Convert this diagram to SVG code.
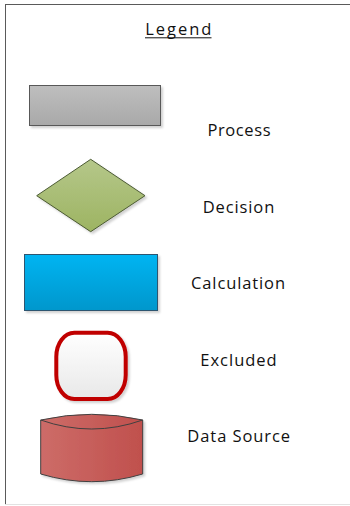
<svg xmlns="http://www.w3.org/2000/svg" width="350" height="506" viewBox="0 0 350 506">
<style>
.lbl{font-family:"Open Sans","Liberation Sans",Arial,sans-serif;font-size:16.5px;fill:#111;text-anchor:middle}
.sh{filter:url(#ds)}
</style>
<defs>
<filter id="ds" x="-10%" y="-10%" width="130%" height="130%">
<feDropShadow dx="2" dy="2" stdDeviation="1.2" flood-color="#000" flood-opacity="0.18"/>
</filter>
<linearGradient id="gGray" x1="0" y1="0" x2="0" y2="1"><stop offset="0" stop-color="#bebebe"/><stop offset="1" stop-color="#a9a9a9"/></linearGradient>
<linearGradient id="gGreen" x1="0" y1="0" x2="0" y2="1"><stop offset="0" stop-color="#b5c78a"/><stop offset="1" stop-color="#9db462"/></linearGradient>
<linearGradient id="gBlue" x1="0" y1="0" x2="0" y2="1"><stop offset="0" stop-color="#00b4f2"/><stop offset="1" stop-color="#0097cc"/></linearGradient>
<linearGradient id="gWhite" x1="0" y1="0" x2="0" y2="1"><stop offset="0" stop-color="#ffffff"/><stop offset="1" stop-color="#e8e8e8"/></linearGradient>
<linearGradient id="gRed" x1="0" y1="0" x2="1" y2="0"><stop offset="0" stop-color="#cd6c68"/><stop offset="1" stop-color="#c0504d"/></linearGradient>
</defs>
<g id="frame">
<line x1="5.5" y1="4" x2="5.5" y2="504" stroke="#5a5a5a" stroke-width="1"/>
<line x1="5" y1="4.5" x2="350" y2="4.5" stroke="#5a5a5a" stroke-width="1"/>
<line x1="5" y1="504.5" x2="350" y2="504.5" stroke="#e2e2e2" stroke-width="1"/>
</g>
<g id="title">
<text class="lbl" x="178.3" y="35" textLength="66" lengthAdjust="spacing">Legend</text>
<line x1="145" y1="37.8" x2="211.5" y2="37.8" stroke="#111" stroke-width="1"/>
</g>
<g id="process">
<rect class="sh" x="29.5" y="85.5" width="131" height="40" fill="url(#gGray)" stroke="#595959" stroke-width="1"/>
<text class="lbl" x="239" y="135.5" textLength="63" lengthAdjust="spacing">Process</text>
</g>
<g id="decision">
<polygon class="sh" points="36.7,195.7 90.7,159.3 145,195.7 90.7,231.7" fill="url(#gGreen)" stroke="#4b5a33" stroke-width="1"/>
<text class="lbl" x="238.5" y="212.7" textLength="71.5" lengthAdjust="spacing">Decision</text>
</g>
<g id="calculation">
<rect class="sh" x="24.5" y="254.5" width="133" height="56" fill="url(#gBlue)" stroke="#2e5570" stroke-width="1"/>
<text class="lbl" x="238" y="289" textLength="94" lengthAdjust="spacing">Calculation</text>
</g>
<g id="excluded">
<rect class="sh" x="56.3" y="332.7" width="69.4" height="66.3" rx="18" ry="24" fill="url(#gWhite)" stroke="#c00000" stroke-width="4"/>
<text class="lbl" x="238.5" y="365.7" textLength="76.4" lengthAdjust="spacing">Excluded</text>
</g>
<g id="datasource">
<path class="sh" d="M40.7,420 Q91.7,408.6 142.7,420 L142.7,474 Q91.7,489.4 40.7,474 Z" fill="url(#gRed)" stroke="#404040" stroke-width="1"/>
<path d="M40.7,420 Q91.7,438 142.7,420" fill="none" stroke="#404040" stroke-width="1"/>
<text class="lbl" x="238.7" y="442" textLength="102.7" lengthAdjust="spacing">Data Source</text>
</g>
</svg>
